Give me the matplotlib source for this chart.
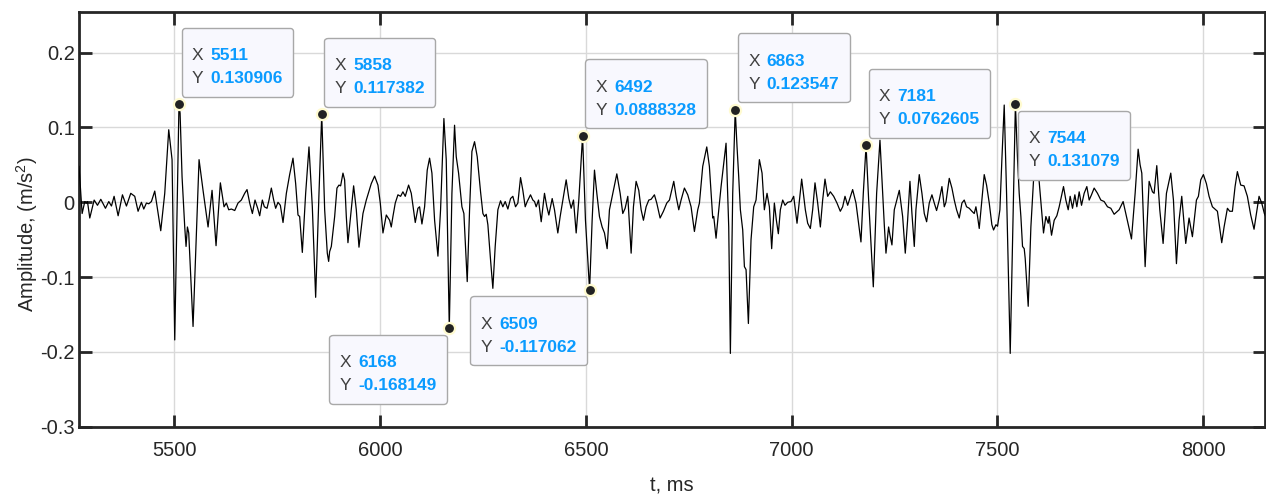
import numpy as np
import matplotlib.pyplot as plt
from matplotlib.offsetbox import TextArea, HPacker, VPacker, DrawingArea, AnnotationBbox

plt.rcParams['font.family'] = ['Liberation Sans', 'DejaVu Sans']
plt.rcParams['mathtext.default'] = 'regular'

# signal (t in ms, amplitude in m/s^2)
t_ms = [
    5268, 5275.6, 5282.1, 5286.1, 5288.6, 5294.2, 5304.8, 5312.9, 5321.0, 5332.3,
    5340.4, 5346.9, 5353.3, 5363.1, 5373.6, 5383.3, 5393.8, 5403.5, 5411.6, 5419.7,
    5425.4, 5431.9, 5437.6, 5444.0, 5452.1, 5466.7, 5476.4, 5486.1, 5494.2, 5500.7,
    5511, 5513.7, 5518.5, 5525.0, 5528.2, 5531.5, 5534.7, 5545.2, 5559.8, 5569.5,
    5581.7, 5591.4, 5601.1, 5611.6, 5620.5, 5626.2, 5631.9, 5638.4,
    5646.5, 5654.5, 5662.6, 5670.7, 5676.4, 5682.9, 5689.4, 5695.8, 5702.3, 5707.2,
    5713.6, 5718.5, 5725.0, 5729.8, 5735.5, 5741.2, 5746.0, 5751.7, 5757.4, 5763.9,
    5772.0, 5780.0, 5788.1, 5794.6, 5800.3, 5804.3, 5810.8, 5818.9, 5827.0, 5835.1,
    5843.2, 5851.3, 5858, 5865.1, 5871.5, 5874.8, 5877.2, 5881.3, 5889.4, 5895.0,
    5899.9, 5903.9, 5909.6, 5913.6, 5917.7, 5921.7, 5929.8, 5935.5, 5942.0, 5948.5,
    5958.2, 5966.3, 5978.4, 5986.5, 5994.6, 6000.3, 6006.8, 6014.9,
    6023.0, 6027.0, 6031.0, 6036.7, 6043.2, 6049.7, 6055.3, 6061.0, 6069.1, 6075.6,
    6085.3, 6091.8, 6095.8, 6101.5, 6108.0, 6114.4, 6120.1, 6125.8, 6132.3, 6140.4,
    6146.8, 6154.9, 6160.6, 6168, 6174.4, 6180.8, 6184.9, 6190.6, 6195.4, 6198.7,
    6203.5, 6211.6, 6217.3, 6223.0, 6229.4, 6235.9, 6244.0, 6249.7, 6253.7, 6257.8,
    6261.8, 6268.3, 6273.9, 6279.6, 6286.1, 6292.6, 6298.2, 6303.9, 6310.4, 6316.9,
    6322.5, 6329.0, 6334.7, 6341.2, 6346.8, 6352.5, 6357.4, 6365.4, 6371.1, 6375.2,
    6379.2, 6384.9, 6391.4,
    6399.4, 6405.1, 6410.0, 6418.1, 6423.7, 6431.8, 6437.5, 6444.0, 6452.1, 6458.6,
    6464.2, 6469.9, 6476.4, 6482.8, 6492, 6499.0, 6509, 6515.2, 6520.9, 6526.6,
    6533.0, 6539.5, 6545.2, 6551.7, 6557.3, 6565.4, 6575.2, 6583.3, 6589.7, 6595.4,
    6601.9, 6610.0, 6615.6, 6622.1, 6628.6, 6634.3, 6639.9, 6646.4, 6652.9, 6658.5,
    6666.6, 6672.3, 6680.4, 6688.5, 6696.6, 6703.1, 6713.6, 6719.3, 6725.8, 6731.4,
    6739.5, 6747.6, 6755.7, 6763.8, 6771.9,
    6776.0, 6784.0, 6793.8, 6800.2, 6808.3, 6810.8, 6816.4, 6822.1, 6828.6, 6840.7,
    6847.2, 6851.2, 6856.9, 6863, 6867.4, 6871.5, 6875.5, 6881.2, 6885.3, 6889.3,
    6895.0, 6901.4, 6907.9, 6913.6, 6921.7, 6928.2, 6933.8, 6940.3, 6946.0, 6951.6,
    6958.1, 6963.0, 6967.8, 6972.7, 6978.4, 6984.0, 6990.5, 6998.6, 7005.1, 7013.2,
    7024.5, 7033.4, 7039.1, 7045.6, 7051.2, 7056.9, 7063.4, 7069.9, 7075.5, 7081.2,
    7087.7, 7094.2, 7102.3, 7110.3, 7118.4, 7124.1, 7129.8, 7136.3, 7144.4,
    7148.4, 7156.5, 7168.6, 7174.3, 7181, 7187.3, 7198.6, 7206.7, 7214.8, 7221.3,
    7225.3, 7229.4, 7235.8, 7239.1, 7243.9, 7249.6, 7261.8, 7269.9, 7276.3, 7282.0,
    7287.7, 7292.5, 7298.2, 7302.2, 7310.3, 7316.8, 7322.5, 7328.2, 7334.6, 7341.1,
    7346.8, 7352.4, 7358.9, 7365.4, 7371.1, 7375.1, 7383.2, 7389.7, 7395.4, 7401.0,
    7407.5, 7414.0, 7419.6, 7425.3, 7431.8, 7438.3, 7443.9, 7448.0, 7452.0, 7456.1,
    7462.6, 7468.2, 7473.9, 7480.4, 7486.8, 7490.9, 7496.6, 7500.6, 7506.3, 7511.1,
    7516.8, 7522.5,
    7531.4, 7544, 7549.2, 7553.2, 7557.3, 7561.3, 7565.4, 7567.8, 7575.1, 7581.6,
    7588.1, 7593.7, 7599.4, 7604.2, 7612.3, 7618.0, 7623.7, 7626.1, 7631.8, 7638.3,
    7644.7, 7650.4, 7660.9, 7666.6, 7672.3, 7677.1, 7682.8, 7688.5, 7693.3, 7699.0,
    7704.7, 7711.1, 7717.6, 7723.3, 7728.9, 7735.4, 7743.5, 7751.6, 7759.7, 7767.8,
    7775.9, 7784.0, 7792.1,
    7796.1, 7805.8, 7812.3, 7826.1, 7835.0, 7842.3, 7847.1, 7851.2, 7859.3, 7869.0,
    7877.1, 7881.1, 7887.6, 7894.9, 7903.0, 7911.1, 7921.6, 7928.1, 7935.4, 7941.8,
    7948.3, 7958.0, 7966.1, 7974.2, 7984.0, 7988.8, 7994.5, 8000.9, 8008.2, 8014.7,
    8022.8, 8035.0, 8045.5, 8051.2, 8059.3, 8064.9, 8071.4, 8077.9, 8083.5, 8091.6,
    8099.7, 8107.8, 8115.9, 8124.0, 8129.7, 8136.2, 8142.7, 8149.1, 8153.0,
]
amp = [
    0.048, -0.015, 0.001, -0.001, 0.001, -0.021, 0.003, -0.004, 0.004, -0.008,
    0.001, -0.005, 0.008, -0.018, 0.010, -0.005, 0.012, 0.008, -0.012, 0.000,
    -0.009, -0.001, -0.002, 0.001, 0.015, -0.038, 0.012, 0.097, 0.057, -0.184,
    0.130906, 0.119, 0.034, -0.033, -0.059, -0.033, -0.041, -0.166, 0.057, 0.016,
    -0.033, 0.016, -0.058, 0.026, -0.006, -0.001, -0.010, -0.009,
    -0.011, -0.001, 0.003, 0.012, 0.017, -0.001, -0.015, 0.003, -0.008, -0.018,
    0.003, -0.006, -0.008, 0.003, 0.019, 0.003, -0.008, 0.000, -0.004, -0.027,
    0.012, 0.037, 0.059, 0.025, -0.017, -0.019, -0.067, 0.012, 0.074, -0.006,
    -0.127, 0.012, 0.117382, -0.010, -0.068, -0.079, -0.066, -0.059, -0.019, 0.019,
    0.023, 0.022, 0.039, 0.030, -0.019, -0.054, -0.010, 0.022, -0.010, -0.060,
    -0.015, 0.003, 0.025, 0.035, 0.023, -0.001, -0.041, -0.017,
    -0.024, -0.033, -0.019, -0.001, 0.010, 0.008, 0.014, 0.008, 0.023, 0.012,
    -0.027, -0.008, -0.006, -0.029, -0.006, 0.043, 0.059, 0.039, -0.024, -0.072,
    -0.010, 0.112, 0.057, -0.168149, 0.012, 0.103, 0.061, 0.039, 0.012, -0.006,
    -0.015, -0.106, -0.010, 0.068, 0.081, 0.061, 0.014, -0.015, -0.019, -0.016,
    -0.030, -0.077, -0.115, -0.059, -0.010, 0.002, -0.006, 0.001, -0.009, 0.005,
    0.008, -0.006, -0.001, 0.033, 0.016, -0.006, 0.001, 0.010, 0.003, 0.001,
    -0.006, 0.003, -0.026,
    0.012, -0.006, -0.017, 0.005, -0.010, -0.041, -0.019, 0.003, 0.030, 0.005,
    -0.008, 0.003, -0.041, 0.003, 0.0888328, -0.024, -0.117062, -0.024, 0.043, 0.012,
    -0.019, -0.033, -0.041, -0.062, -0.010, 0.012, 0.038, 0.012, -0.015, -0.008,
    0.008, -0.068, -0.006, 0.028, 0.016, -0.010, -0.024, -0.006, 0.003, 0.004,
    0.010, -0.001, -0.021, -0.012, -0.001, 0.003, 0.028, 0.008, -0.010, 0.003,
    0.019, 0.010, -0.006, -0.039, -0.010,
    -0.001, 0.048, 0.074, 0.048, -0.021, -0.019, -0.048, -0.015, 0.021, 0.079,
    -0.033, -0.202, 0.012, 0.123547, 0.074, 0.034, -0.010, -0.037, -0.086, -0.090,
    -0.162, -0.050, -0.006, 0.003, 0.057, 0.039, -0.010, 0.012, -0.006, -0.062,
    -0.001, -0.024, -0.042, -0.010, 0.003, -0.004, 0.000, 0.001, 0.008, -0.028,
    0.031, -0.010, -0.028, -0.035, -0.010, 0.026, -0.001, -0.033, 0.003, 0.031,
    0.008, 0.014, 0.008, -0.001, -0.012, -0.006, 0.008, -0.004, 0.010,
    0.017, -0.001, -0.053, 0.012, 0.0762605, 0.003, -0.113, 0.012, 0.083, 0.012,
    -0.030, -0.068, -0.033, -0.044, -0.057, -0.010, 0.016, -0.019, -0.068, -0.024,
    0.028, -0.015, -0.059, -0.010, 0.037, 0.012, -0.015, -0.026, -0.001, 0.010,
    -0.001, -0.011, 0.003, 0.021, -0.006, 0.000, 0.032, 0.019, 0.003, -0.010,
    -0.021, -0.001, 0.003, -0.006, -0.008, -0.012, -0.015, -0.006, -0.019, -0.035,
    0.003, 0.037, 0.023, -0.001, -0.030, -0.037, -0.030, -0.032, -0.010, 0.057,
    0.130, 0.012,
    -0.202, 0.131079, 0.057, 0.012, -0.019, -0.059, -0.062, -0.075, -0.139, -0.033,
    0.030, 0.057, 0.043, 0.012, -0.041, -0.019, -0.028, -0.019, -0.044, -0.024,
    -0.018, -0.006, 0.021, 0.003, -0.010, 0.008, -0.008, 0.010, -0.006, 0.014,
    -0.004, 0.012, 0.021, 0.003, 0.010, 0.019, 0.012, 0.003, 0.001, -0.006,
    -0.008, -0.016, -0.012,
    -0.010, 0.001, -0.015, -0.049, 0.012, 0.071, 0.050, 0.039, -0.086, 0.028,
    0.014, 0.012, 0.049, -0.010, -0.055, 0.012, 0.039, 0.003, -0.082, -0.024,
    0.008, -0.055, -0.021, -0.046, 0.003, 0.008, 0.030, 0.037, 0.025, 0.008,
    -0.006, -0.012, -0.054, -0.033, -0.008, -0.012, -0.012, 0.021, 0.041, 0.023,
    0.022, 0.008, -0.017, -0.036, -0.015, 0.008, -0.001, -0.015, -0.020,
]

# data tips
tip_x = [5511, 5858, 6168, 6492, 6509, 6863, 7181, 7544]
tip_y = [0.130906, 0.117382, -0.168149, 0.0888328, -0.117062, 0.123547, 0.0762605, 0.131079]
tip_labels = ['0.130906', '0.117382', '-0.168149', '0.0888328', '-0.117062',
              '0.123547', '0.0762605', '0.131079']
# which corner of the box touches the point: (dx sign, dy sign)
tip_side = [(1, 1), (1, 1), (-1, -1), (1, 1), (-1, -1), (1, 1), (1, 1), (1, -1)]

fig = plt.figure(figsize=(12.66, 4.97), dpi=100)
ax = fig.add_axes([0.0624, 0.1414, 0.9366, 0.8345])

ax.plot(t_ms, amp, color='black', lw=0.9, zorder=3)
ax.plot(tip_x, tip_y, 'o', ms=8, mfc='#222222', mec='#fffbd0', mew=1.6, zorder=6)

for x, y, lab, (sx, sy) in zip(tip_x, tip_y, tip_labels, tip_side):
    row1 = HPacker(children=[TextArea('X', textprops=dict(color='#404040', fontsize=12.5)),
                             TextArea(str(x), textprops=dict(color='#0a9bff', fontsize=12.5,
                                                             fontweight='bold'))],
                   sep=5, align='baseline')
    row2 = HPacker(children=[TextArea('Y', textprops=dict(color='#404040', fontsize=12.5)),
                             TextArea(lab, textprops=dict(color='#0a9bff', fontsize=12.5,
                                                          fontweight='bold'))],
                   sep=5, align='baseline')
    box = VPacker(children=[DrawingArea(1, 1), row1, row2], sep=6, align='left', pad=0)
    # frame sticks out of the content: ~10 px sideways, ~14 px below, ~15 px above
    dx = 13 * sx
    dy = 18 if sy > 0 else -17
    ab = AnnotationBbox(box, (x, y), xybox=(dx, dy), xycoords='data',
                        boxcoords='offset pixels',
                        box_alignment=(0 if sx > 0 else 1, 0 if sy > 0 else 1),
                        pad=0.75, frameon=True,
                        bboxprops=dict(boxstyle='round,pad=0.75,rounding_size=0.25',
                                       fc='#f8f8fe', ec='#a8a8a8', lw=1))
    ab.set_zorder(5)
    ax.add_artist(ab)

ax.set_xlim(5268, 8150)
ax.set_ylim(-0.3, 0.2544)
ax.set_xticks([5500, 6000, 6500, 7000, 7500, 8000])
ax.set_yticks([-0.3, -0.2, -0.1, 0, 0.1, 0.2])
ax.set_yticklabels(['-0.3', '-0.2', '-0.1', '0', '0.1', '0.2'])
ax.grid(True, color='#d9d9d9', lw=1.0, zorder=0)
ax.set_axisbelow(True)
ax.tick_params(direction='in', top=True, right=True, length=9, width=2,
               labelsize=14.5, labelcolor='#262626', color='#262626')
ax.tick_params(axis='x', pad=10)
ax.tick_params(axis='y', pad=3)
for s in ax.spines.values():
    s.set_linewidth(2)
    s.set_color('#262626')

ax.set_xlabel('t, ms', fontsize=14.5, color='#262626', labelpad=12)
ax.set_ylabel('Amplitude, (m/s$^2$)', fontsize=14.5, color='#262626')
ax.yaxis.set_label_coords(-0.033, 0.465)

fig.savefig('out.png', dpi=100)
